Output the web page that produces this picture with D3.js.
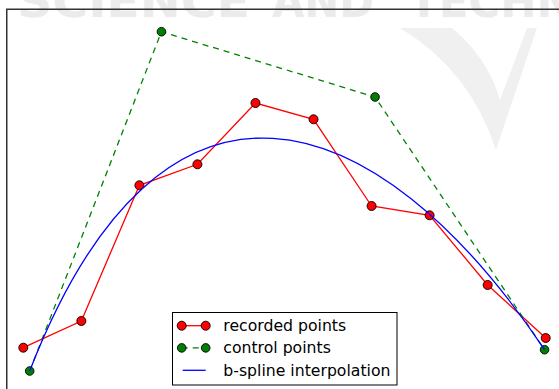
<!DOCTYPE html>
<html>
<head>
<meta charset="utf-8">
<script src="https://cdn.jsdelivr.net/npm/d3@7"></script>
<style>
  html, body { margin: 0; padding: 0; background: #fff; }
  svg { display: block; }
</style>
</head>
<body>
<svg id="chart" width="559" height="389"></svg>
<script>
// ---- data ----
const recordedX = [0, 1, 2, 3, 4, 5, 6, 7, 8, 9];
const recordedY = [4.13, 6.8, 20.37, 22.47, 28.6, 26.97, 18.3, 17.37, 10.4, 5.1];
const controlX = [0.11, 2.38, 6.06, 8.98];
const controlY = [1.8, 35.73, 29.2, 3.93];
const legendLabels = ["recorded points", "control points", "b-spline interpolation"];
const watermarkWords = ["SCIENCE", "AND", "TECHNOLOGY"];

// ---- layout ----
const W = 559, H = 389;
const svg = d3.select("#chart");
const x = d3.scaleLinear().domain([0, 9]).range([23.3, 545.7]);
const y = d3.scaleLinear().domain([0, 38]).range([389, 9]);

// watermark (faint)
const wm = svg.append("g").attr("fill", "#ebebeb")
  .attr("font-family", "DejaVu Sans").attr("font-weight", "bold").attr("font-size", 44);
const wmX = [17, 272, 409], wmLen = [233, 102, 330];
watermarkWords.forEach((w, i) => {
  wm.append("text").attr("x", wmX[i]).attr("y", 17)
    .attr("textLength", wmLen[i]).attr("lengthAdjust", "spacingAndGlyphs").text(w);
});
svg.append("path")
  .attr("d", "M400,28 L452,28 Q488,58 500,100 L527,28 L537,28 L496,150 Q470,70 400,28 Z")
  .attr("fill", "#f0f0f0");

// axes frame (right/bottom outside the picture)
svg.append("rect").attr("x", 6.75).attr("y", 9.25)
  .attr("width", 600).attr("height", 400)
  .attr("fill", "none").attr("stroke", "#333").attr("stroke-width", 1.5);

const recorded = recordedX.map((v, i) => [v, recordedY[i]]);
const control = controlX.map((v, i) => [v, controlY[i]]);
const line = d3.line().x(d => x(d[0])).y(d => y(d[1]));

// recorded points
svg.append("path").attr("d", line(recorded))
  .attr("fill", "none").attr("stroke", "#ff0000").attr("stroke-width", 1.3);
svg.selectAll(".rp").data(recorded).join("circle").attr("class", "rp")
  .attr("cx", d => x(d[0])).attr("cy", d => y(d[1])).attr("r", 4.5)
  .attr("fill", "#ff0000").attr("stroke", "#000").attr("stroke-width", 0.9);

// control points
svg.append("path").attr("d", line(control))
  .attr("fill", "none").attr("stroke", "#008000").attr("stroke-width", 1.3)
  .attr("stroke-dasharray", "6,5");
svg.selectAll(".cp").data(control).join("circle").attr("class", "cp")
  .attr("cx", d => x(d[0])).attr("cy", d => y(d[1])).attr("r", 4.3)
  .attr("fill", "#008000").attr("stroke", "#000").attr("stroke-width", 0.9);

// b-spline (clamped cubic with 4 control points)
const sp = d3.path();
sp.moveTo(x(control[0][0]), y(control[0][1]));
sp.bezierCurveTo(x(control[1][0]), y(control[1][1]),
                 x(control[2][0]), y(control[2][1]),
                 x(control[3][0]), y(control[3][1]));
svg.append("path").attr("d", sp.toString())
  .attr("fill", "none").attr("stroke", "#0000ff").attr("stroke-width", 1.3);

// legend
const lg = svg.append("g");
lg.append("rect").attr("x", 172.5).attr("y", 312.5).attr("width", 224.5).attr("height", 72.5)
  .attr("fill", "#fff").attr("stroke", "#000").attr("stroke-width", 1);
const rowY = [325.7, 347.9, 370.3];
const x0 = 181.7, x1 = 205.7;
// row 1
lg.append("line").attr("x1", x0).attr("x2", x1).attr("y1", rowY[0]).attr("y2", rowY[0])
  .attr("stroke", "#ff0000").attr("stroke-width", 1.3);
[x0, x1].forEach(cx => lg.append("circle").attr("cx", cx).attr("cy", rowY[0]).attr("r", 4.5)
  .attr("fill", "#ff0000").attr("stroke", "#000").attr("stroke-width", 0.9));
// row 2
lg.append("line").attr("x1", x0).attr("x2", x1).attr("y1", rowY[1]).attr("y2", rowY[1])
  .attr("stroke", "#008000").attr("stroke-width", 1.3).attr("stroke-dasharray", "6,5");
[x0, x1].forEach(cx => lg.append("circle").attr("cx", cx).attr("cy", rowY[1]).attr("r", 4.3)
  .attr("fill", "#008000").attr("stroke", "#000").attr("stroke-width", 0.9));
// row 3
lg.append("line").attr("x1", x0 + 1).attr("x2", x1).attr("y1", rowY[2]).attr("y2", rowY[2])
  .attr("stroke", "#0000ff").attr("stroke-width", 1.3);
legendLabels.forEach((t, i) => {
  lg.append("text").attr("x", 223.3).attr("y", rowY[i] + 5.5)
    .attr("font-family", "DejaVu Sans").attr("font-size", 15.7).attr("fill", "#000").text(t);
});
</script>
</body>
</html>
